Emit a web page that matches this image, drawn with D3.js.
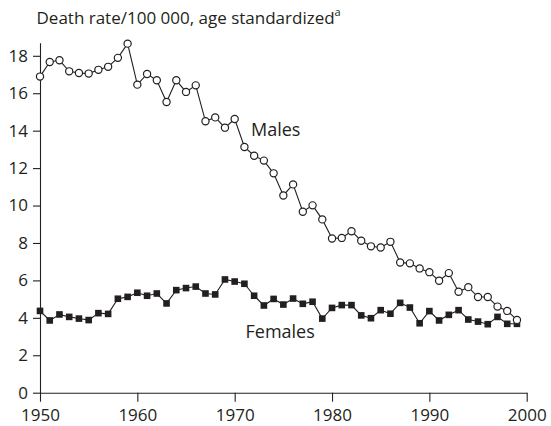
<!DOCTYPE html>
<html>
<head>
<meta charset="utf-8">
<script src="https://cdn.jsdelivr.net/npm/d3@7/dist/d3.min.js"></script>
<style>
  html, body { margin: 0; padding: 0; background: #fff; }
  svg { display: block; font-family: "Open Sans", sans-serif; }
</style>
</head>
<body>
<svg id="chart" width="551" height="426"></svg>
<script>
// Age-standardized death rate per 100 000, by sex, 1950-1999
const years = d3.range(1950, 2000);
const males = [
  16.89, 17.67, 17.76, 17.17, 17.08, 17.05, 17.25, 17.41, 17.89, 18.65,
  16.46, 17.03, 16.69, 15.53, 16.69, 16.07, 16.42, 14.50, 14.71, 14.16,
  14.62, 13.13, 12.66, 12.40, 11.72, 10.54, 11.13, 9.67, 10.01, 9.26,
  8.24, 8.27, 8.63, 8.12, 7.82, 7.76, 8.06, 6.96, 6.91, 6.64,
  6.44, 5.98, 6.39, 5.39, 5.64, 5.11, 5.11, 4.60, 4.37, 3.89
];
const females = [
  4.37, 3.86, 4.18, 4.05, 3.96, 3.88, 4.25, 4.21, 5.02, 5.12,
  5.34, 5.18, 5.30, 4.77, 5.48, 5.59, 5.67, 5.30, 5.25, 6.05,
  5.94, 5.82, 5.18, 4.66, 5.01, 4.71, 5.03, 4.75, 4.86, 3.96,
  4.53, 4.68, 4.68, 4.13, 3.98, 4.41, 4.22, 4.80, 4.55, 3.71,
  4.36, 3.86, 4.16, 4.41, 3.91, 3.80, 3.66, 4.05, 3.68, 3.68
];
const xTicks = [1950, 1960, 1970, 1980, 1990, 2000];
const yTicks = [0, 2, 4, 6, 8, 10, 12, 14, 16, 18];
const titleText = "Death rate/100 000, age standardized";
const titleNote = "a";
const seriesLabels = ["Males", "Females"];

const ink = "#231f20";
const svg = d3.select("#chart");

const x = d3.scaleLinear().domain([1950, 2000]).range([40, 526.7]);
const y = d3.scaleLinear().domain([0, 18.7]).range([392.7, 42.7]);

// Axes
const xAxis = svg.append("g")
  .attr("transform", `translate(0,${y(0)})`)
  .call(d3.axisBottom(x).tickValues(xTicks).tickFormat(d3.format("d"))
    .tickSizeInner(9).tickSizeOuter(0));
xAxis.selectAll("text").attr("y", 28).attr("dy", 0);

const yAxis = svg.append("g")
  .attr("transform", `translate(${x(1950)},0)`)
  .call(d3.axisLeft(y).tickValues(yTicks).tickSizeInner(7).tickSizeOuter(0).tickPadding(5));

[xAxis, yAxis].forEach(g => {
  g.select(".domain").attr("stroke", ink).attr("stroke-width", 1.1);
  g.selectAll(".tick line").attr("stroke", ink).attr("stroke-width", 1.1);
  g.selectAll(".tick text").attr("fill", ink)
    .style("font-family", "'Open Sans', sans-serif").style("font-size", "17px");
});

// Series lines
const line = d3.line().x((d, i) => x(years[i])).y(d => y(d));
svg.append("path").datum(females).attr("d", line)
  .attr("fill", "none").attr("stroke", ink).attr("stroke-width", 1.1);
svg.append("path").datum(males).attr("d", line)
  .attr("fill", "none").attr("stroke", ink).attr("stroke-width", 1.1);

// Females: filled squares
const sq = 6.6;
svg.append("g").selectAll("rect").data(females).join("rect")
  .attr("x", (d, i) => x(years[i]) - sq / 2)
  .attr("y", d => y(d) - sq / 2)
  .attr("width", sq).attr("height", sq)
  .attr("fill", ink);

// Males: open circles
svg.append("g").selectAll("circle").data(males).join("circle")
  .attr("cx", (d, i) => x(years[i]))
  .attr("cy", d => y(d))
  .attr("r", 3.6)
  .attr("fill", "#fff").attr("stroke", ink).attr("stroke-width", 1.2);

// Title with footnote marker
const title = svg.append("text")
  .attr("x", 36.5).attr("y", 24)
  .attr("fill", ink).style("font-size", "17px")
  .text(titleText);
title.append("tspan").attr("dy", -8).style("font-size", "11px").text(titleNote);

// Series labels
svg.append("text").attr("x", 251).attr("y", 136)
  .attr("fill", ink).style("font-size", "18px").text(seriesLabels[0]);
svg.append("text").attr("x", 245.5).attr("y", 338)
  .attr("fill", ink).style("font-size", "18px").text(seriesLabels[1]);
</script>
</body>
</html>
